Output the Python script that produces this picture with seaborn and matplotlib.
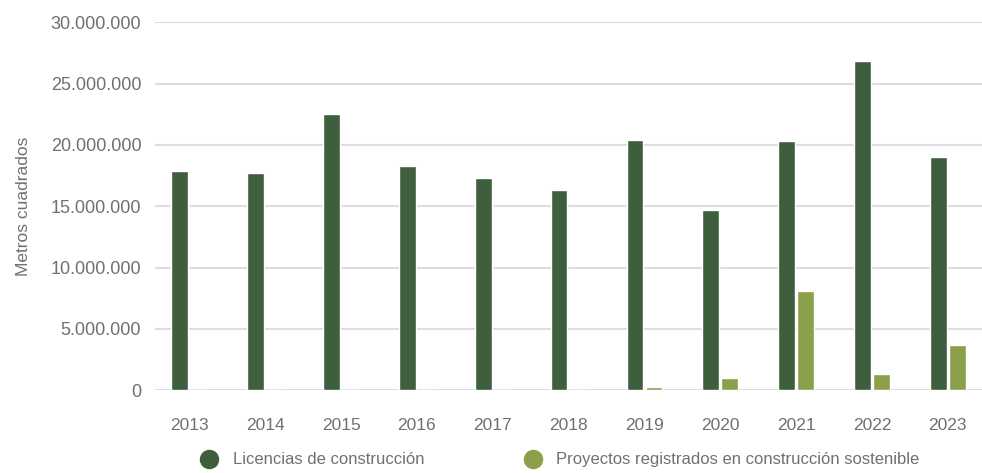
import pandas as pd
import numpy as np
import matplotlib.pyplot as plt
import seaborn as sns
from matplotlib.lines import Line2D
from matplotlib.ticker import FuncFormatter

years = ['2013', '2014', '2015', '2016', '2017', '2018', '2019', '2020', '2021', '2022', '2023']
licencias = [17.9e6, 17.7e6, 22.5e6, 18.25e6, 17.3e6, 16.3e6, 20.4e6, 14.7e6, 20.3e6, 26.8e6, 19.0e6]
sostenible = [0, 0, 0, 0, 0, 0, 0.25e6, 0.98e6, 8.1e6, 1.36e6, 3.67e6]
series_names = ['Licencias de construcción', 'Proyectos registrados en construcción sostenible']
colors = ['#3f5e3e', '#8aa04a']

df = pd.DataFrame({'Año': years * 2,
                   'Serie': [series_names[0]] * len(years) + [series_names[1]] * len(years),
                   'Valor': licencias + sostenible})

sns.set_style('white')
plt.rcParams['font.family'] = ['Liberation Sans', 'DejaVu Sans']
gray = '#707070'

fig = plt.figure(figsize=(9.82, 4.73), dpi=100)
ax = fig.add_axes([0.158, 0.175, 0.842, 0.778])
sns.barplot(data=df, x='Año', y='Valor', hue='Serie', palette=colors, width=0.5, gap=0.12,
            saturation=1, ax=ax, legend=False, zorder=3)

ax.set_ylim(0, 30e6)
ax.set_xlim(-0.45, 10.45)
ax.set_yticks(np.arange(0, 30e6 + 1, 5e6))
ax.yaxis.set_major_formatter(FuncFormatter(lambda v, p: f'{int(v):,}'.replace(',', '.')))
ax.grid(axis='y', color='#dddddd', linewidth=1.5, zorder=0)
ax.set_axisbelow(True)
for s in ax.spines.values():
    s.set_visible(False)
ax.tick_params(axis='y', length=0, labelsize=13, colors=gray, pad=10)
ax.tick_params(axis='x', length=0, labelsize=12.5, colors=gray, pad=20)
ax.set_xlabel('')
ax.set_ylabel('Metros cuadrados', fontsize=12.5, color=gray, labelpad=14)

handles = [Line2D([], [], marker='o', linestyle='', markersize=13, color=c) for c in colors]
fig.legend(handles, series_names, loc='lower left', bbox_to_anchor=(0.181, -0.02), ncol=2,
           frameon=False, fontsize=12, labelcolor=gray, columnspacing=5.5, handletextpad=0.4)

fig.savefig('out.png', dpi=100)
